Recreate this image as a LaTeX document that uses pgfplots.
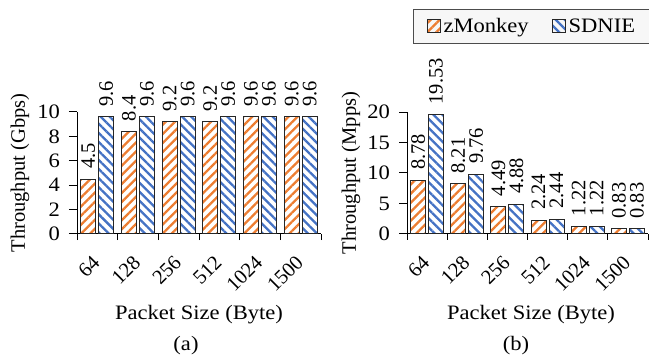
\documentclass[border=0pt]{standalone}
\usepackage{pgfplots}
\pgfplotsset{compat=1.18}
\usepackage{pgfplotstable}
\usetikzlibrary{patterns.meta}
\usepackage{fontspec}
\setmainfont{Liberation Serif}
\newfontfamily\wide{Liberation Serif}[FakeStretch=1.1]
\newcommand\fs{\fontsize{20.5bp}{24bp}\selectfont}
\definecolor{zorange}{HTML}{ED7D31}
\definecolor{sblue}{HTML}{4472C4}

\pgfplotstableread{
x y lab
0 4.5 4.5
1 8.4 8.4
2 9.2 9.2
3 9.2 9.2
4 9.6 9.6
5 9.6 9.6
}\aZ
\pgfplotstableread{
x y lab
0 9.6 9.6
1 9.6 9.6
2 9.6 9.6
3 9.6 9.6
4 9.6 9.6
5 9.6 9.6
}\aS
\pgfplotstableread{
x y lab
0 8.78 8.78
1 8.21 8.21
2 4.49 4.49
3 2.24 2.24
4 1.22 1.22
5 0.83 0.83
}\bZ
\pgfplotstableread{
x y lab
0 19.53 19.53
1 9.76 9.76
2 4.88 4.88
3 2.44 2.44
4 1.22 1.22
5 0.83 0.83
}\bS

\tikzset{
 zpat/.style={draw=black!85, line width=1bp, pattern={Lines[angle=45,distance=6.4bp,line width=2.3bp]}, pattern color=zorange},
 spat/.style={draw=black!85, line width=1bp, pattern={Lines[angle=-45,distance=6.4bp,line width=2.3bp]}, pattern color=sblue},
}
\pgfplotsset{barax/.style={
 scale only axis, height=122bp,
 ymin=0, xmin=-0.5, xmax=5.5,
 axis x line*=bottom, axis y line*=left,
 axis line style={-, line width=1bp, black},
 ybar=3bp, bar width=15bp,
 xtick={0,...,5}, xticklabels={64,128,256,512,1024,1500},
 minor xtick={-0.5,0.5,...,5.5},
 tick align=outside, major tick length=8bp, minor tick length=6bp,
 every major x tick/.append style={draw=none},
 tick style={black, line width=1bp},
 xticklabel style={font=\fs, yshift=-17bp, xshift=-1bp, rotate=45, anchor=east, inner sep=0pt},
 yticklabel style={font=\wide\fs, xshift=-5.5bp},
 /pgf/number format/assume math mode=true,
 clip=false,
 nodes near coords, point meta=explicit symbolic,
 every node near coord/.append style={font=\fs, rotate=90, anchor=west, inner xsep=10bp, inner ysep=0pt, black},
 legend image code/.code={\draw[#1] (0bp,-6.5bp) rectangle (13bp,6.5bp);},
}}

\begin{document}
\begin{tikzpicture}
\begin{axis}[barax, at={(77bp,126bp)}, anchor=south west, width=244bp, ymax=10, ytick={0,2,...,10}]
\addplot[zpat] table[x=x,y=y,meta=lab] {\aZ};
\addplot[spat] table[x=x,y=y,meta=lab] {\aS};
\end{axis}
\begin{axis}[barax, at={(407bp,126bp)}, anchor=south west, width=241bp, ymax=20, ytick={0,5,...,20},
 legend style={at={(rel axis cs:0,1)}, anchor=north west, xshift=6bp, yshift=103bp,
  draw=black!70, fill=black!3, line width=1bp, font=\wide\fs, legend columns=2,
  inner xsep=13bp, inner ysep=3bp, nodes={inner xsep=3bp, inner ysep=6bp}},
 legend cell align=left]
\addplot[zpat] table[x=x,y=y,meta=lab] {\bZ};
\addlegendentry{zMonkey\hspace*{20bp}}
\addplot[spat] table[x=x,y=y,meta=lab] {\bS};
\addlegendentry{SDNIE}
\end{axis}
\node[rotate=90, font=\fs] at (20bp,187bp) {Throughput (Gbps)};
\node[rotate=90, font=\fs] at (351bp,187bp) {Throughput (Mpps)};
\node[font=\wide\fs, anchor=base] at (199bp,40bp) {Packet Size (Byte)};
\node[font=\wide\fs, anchor=base] at (531bp,40bp) {Packet Size (Byte)};
\node[font=\wide\fs, anchor=base] at (186bp,9.5bp) {(a)};
\node[font=\wide\fs, anchor=base] at (516bp,9.5bp) {(b)};
\pgfresetboundingbox
\path[use as bounding box] (0,0) rectangle (649bp,360bp);
\end{tikzpicture}
\end{document}
